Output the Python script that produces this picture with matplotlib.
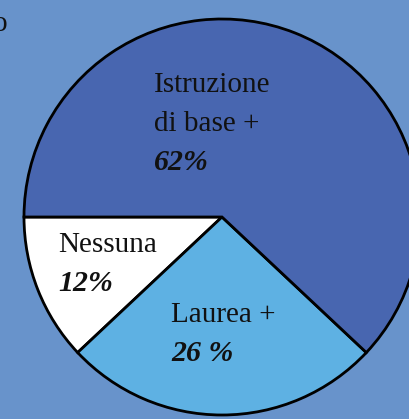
import matplotlib
matplotlib.use("Agg")
import matplotlib.pyplot as plt

# Titolo di studio: quote percentuali
labels = ["Nessuna", "Laurea +", "Istruzione\ndi base +"]
shares = [12, 26, 62]
share_text = ["12%", "26 %", "62%"]
colors = ["#ffffff", "#5eb1e3", "#4866b0"]

W, H = 410, 419
fig = plt.figure(figsize=(W / 100, H / 100), dpi=100)
fig.patch.set_facecolor("#6893cb")
ax = fig.add_axes([0, 0, 1, 1])
ax.set_facecolor("#6893cb")

cx, cy, r = 222, H - 217, 198
ax.pie(shares, colors=colors, startangle=180, counterclock=True,
       center=(cx, cy), radius=r, frame=True,
       wedgeprops=dict(edgecolor="black", linewidth=2.0))
ax.set_xlim(0, W)
ax.set_ylim(0, H)
ax.set_aspect("equal")
ax.axis("off")

font = "Liberation Serif"
fs = 21
# posizione (x, baseline) di ogni etichetta in pixel
pos = [(58, 252), (171, 322), (154, 92)]
for lab, txt, (x, y) in zip(labels, share_text, pos):
    lines = lab.split("\n")
    for i, line in enumerate(lines):
        ax.text(x, H - (y + 39 * i), line, fontsize=fs, family=font,
                ha="left", va="baseline", color="#111111")
    ax.text(x, H - (y + 39 * len(lines)), txt, fontsize=fs + 0.5, family=font,
            weight="bold", style="italic", ha="left", va="baseline", color="#111111")

ax.text(8, H - 31, "o", fontsize=fs, family=font, ha="right", va="baseline", color="#111111")

fig.savefig("out.png", dpi=100, facecolor=fig.get_facecolor())
